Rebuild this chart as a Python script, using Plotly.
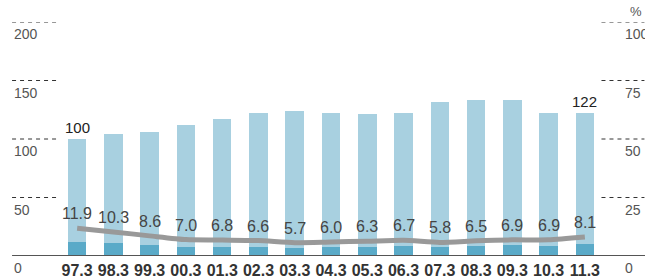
import plotly.graph_objects as go

categories = ["97.3", "98.3", "99.3", "00.3", "01.3", "02.3", "03.3", "04.3",
              "05.3", "06.3", "07.3", "08.3", "09.3", "10.3", "11.3"]
index_values = [100, 104, 106, 112, 117, 122, 124, 122, 121, 122, 132, 133, 133, 122, 122]
share_pct = [11.9, 10.3, 8.6, 7.0, 6.8, 6.6, 5.7, 6.0, 6.3, 6.7, 5.8, 6.5, 6.9, 6.9, 8.1]
bar_label_idx = [0, 14]
left_ticks = [0, 50, 100, 150, 200]
right_ticks = [0, 25, 50, 75, 100]
grid_vals = [50, 100, 150, 200]

dark_part = [v * p / 100 for v, p in zip(index_values, share_pct)]
light_part = [v - d for v, d in zip(index_values, dark_part)]
positions = list(range(len(categories)))

LIGHT = "#a8d0e0"
DARK = "#5aaac8"
FONT = "Liberation Sans, Arial, sans-serif"

fig = go.Figure()
fig.add_bar(x=positions, y=dark_part, marker_color=DARK, width=0.51,
            marker_line_width=0, hoverinfo="skip")
fig.add_bar(x=positions, y=light_part, marker_color=LIGHT, width=0.51,
            marker_line_width=0, hoverinfo="skip")
fig.add_scatter(x=positions, y=share_pct, yaxis="y2", mode="lines",
                line=dict(color="#999999", width=5, shape="spline", smoothing=0.6),
                hoverinfo="skip")

ann = []
for i, p in zip(positions, share_pct):
    ann.append(dict(x=i, y=p, yref="y2", text=f"{p:.1f}", showarrow=False,
                    yanchor="bottom", yshift=4,
                    font=dict(family=FONT, size=16, color="#444444")))
for i in bar_label_idx:
    ann.append(dict(x=positions[i], y=index_values[i], yref="y", text=str(index_values[i]),
                    showarrow=False, yanchor="bottom", yshift=1,
                    font=dict(family=FONT, size=15, color="#222222")))
for t in left_ticks:
    ann.append(dict(x=-0.0863, xref="paper", y=t, yref="y", text=str(t), showarrow=False,
                    xanchor="left", yanchor="middle", yshift=-12,
                    font=dict(family=FONT, size=14, color="#555555")))
for t in right_ticks:
    ann.append(dict(x=1.0376, xref="paper", y=t, yref="y2", text=str(t), showarrow=False,
                    xanchor="left", yanchor="middle", yshift=-12,
                    font=dict(family=FONT, size=14, color="#555555")))
ann.append(dict(x=1.0762, xref="paper", y=100, yref="y2", text="%", showarrow=False,
                xanchor="right", yanchor="middle", yshift=11,
                font=dict(family=FONT, size=13, color="#555555")))

shapes = []
for g in grid_vals:
    shapes.append(dict(type="line", xref="paper", yref="y", x0=-0.0863, x1=-0.0037, y0=g, y1=g,
                       line=dict(color="#333333", width=1, dash="4px,4px")))
    shapes.append(dict(type="line", xref="paper", yref="y", x0=0.9972, x1=1.0762, y0=g, y1=g,
                       line=dict(color="#333333", width=1, dash="4px,4px")))
shapes.append(dict(type="line", xref="paper", yref="y", x0=-0.0863, x1=1.08, y0=0, y1=0,
                   line=dict(color="#555555", width=2), layer="above"))

fig.update_layout(
    width=645, height=279,
    margin=dict(l=59, r=42, t=22, b=23, autoexpand=False),
    paper_bgcolor="white", plot_bgcolor="white",
    barmode="stack", showlegend=False,
    annotations=ann, shapes=shapes,
    xaxis=dict(range=[-0.5, 14.5], showgrid=False, zeroline=False, automargin=False,
               showline=False, ticks="", ticklabelstandoff=3,
               tickmode="array", tickvals=positions, ticktext=categories,
               tickfont=dict(family=FONT, size=16, color="#333333", weight="bold")),
    yaxis=dict(range=[0, 200], showgrid=False, zeroline=False, showticklabels=False,
               showline=False, ticks="", automargin=False),
    yaxis2=dict(range=[0, 100], overlaying="y", side="right", showgrid=False, automargin=False,
                zeroline=False, showticklabels=False, showline=False, ticks=""),
)

fig.write_html("out.html", config={"displayModeBar": False},
               post_script="document.body.style.margin='0';document.body.style.overflow='hidden';")
